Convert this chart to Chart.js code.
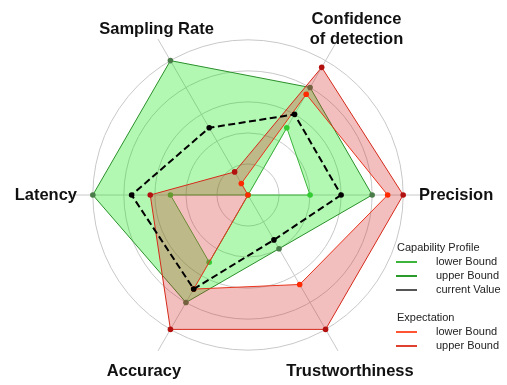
<!DOCTYPE html>
<html>
<head>
<meta charset="utf-8">
<script src="https://cdn.jsdelivr.net/npm/chart.js@4"></script>
<style>
body{margin:0;background:#fff;}
#wrap{position:relative;width:507px;height:385px;}
#legend{position:absolute;left:396px;top:240px;font-family:"Liberation Sans",Arial,sans-serif;font-size:11px;color:#222;}
#legend .title{height:14px;line-height:14px;margin-left:1px;}
#legend .row{height:14px;line-height:14px;position:relative;padding-left:40px;}
#legend .row i{position:absolute;left:0;top:7px;width:21px;height:1.5px;}
#legend .gap{height:14px;}
</style>
</head>
<body>
<div id="wrap">
<canvas id="radar"></canvas>
<div id="legend">
<div class="title">Capability Profile</div>
<div class="row"><i style="background:#3cb43c"></i>lower Bound</div>
<div class="row"><i style="background:#2a9a2a"></i>upper Bound</div>
<div class="row"><i style="background:#555"></i>current Value</div>
<div class="gap"></div>
<div class="title">Expectation</div>
<div class="row"><i style="background:#ff5533"></i>lower Bound</div>
<div class="row"><i style="background:#e04030"></i>upper Bound</div>
</div>
</div>

<script>

// Data (axis order clockwise from the right)

const axes = [
"Precision",
"Trustworthiness",
"Accuracy",
"Latency",
"Sampling Rate",
["Confidence","of detection"]
];

const capLower = [2, 0, 2.5, 2.5, 0, 2.5];
const capUpper = [4, 2, 4, 5, 5, 4];
const currentValue = [3, 1.67, 3.5, 3.75, 2.5, 3];
const expLower = [4.5, 3.33, 3.5, 0, 0.43, 3.75];
const expUpper = [5, 5, 5, 3.15, 0.86, 4.75];

const ringTicks = [0, 1, 2, 3, 4, 5];

// small horizontal nudge of each axis label
const labelShift = [0, 0, -2, 0, 4, 13];

// Axis labels drawn around the scale

const axisLabels = {
id:"axisLabels",
afterDraw(chart){

const scale = chart.scales.r;
const ctx = chart.ctx;

ctx.save();
ctx.font = "bold 16.5px 'Liberation Sans', Arial, sans-serif";
ctx.fillStyle = "#111";

for(let i=0;i<axes.length;i++){

const a = scale.getIndexAngle(i) - Math.PI/2;
const cos = Math.cos(a);
const lines = Array.isArray(axes[i]) ? axes[i] : [axes[i]];
let p;

if(Math.abs(cos) > 0.9){
p = scale.getPointPosition(i, 171);
ctx.textAlign = cos > 0 ? "left" : "right";
}
else{
p = scale.getPointPosition(i, Math.sin(a) < 0 ? 191 : 204);
ctx.textAlign = "center";
}

ctx.textBaseline = "middle";
const lh = 20;
const y0 = p.y - (lines.length-1)*lh/2;

lines.forEach((t,k)=>{
ctx.fillText(t, p.x + labelShift[i], y0 + k*lh);
});

}

ctx.restore();

}
};

new Chart(
document.getElementById("radar"),
{
type:"radar",
data:{
labels:axes,
datasets:[
{
label:"Capability lower Bound",
data:capLower,
borderColor:"#3cb43c",
borderWidth:1,
pointBackgroundColor:"#33cc33",
pointBorderWidth:0,
fill:false,
order:1
},
{
label:"Capability upper Bound",
data:capUpper,
borderColor:"#2a8f2a",
borderWidth:1,
pointBackgroundColor:"#4a7c4a",
pointBorderWidth:0,
backgroundColor:"rgba(0,230,0,0.3)",
fill:"-1",
order:1
},
{
label:"current Value",
data:currentValue,
borderColor:"#000",
borderWidth:2,
borderDash:[7,3.5],
pointBackgroundColor:"#000",
pointBorderWidth:0,
fill:false,
order:-1
},
{
label:"Expectation lower Bound",
data:expLower,
borderColor:"#e8341c",
borderWidth:1,
pointBackgroundColor:"#ff2a00",
pointBorderWidth:0,
fill:false,
order:0
},
{
label:"Expectation upper Bound",
data:expUpper,
borderColor:"#d42a1a",
borderWidth:1,
pointBackgroundColor:"#b31010",
pointBorderWidth:0,
backgroundColor:"rgba(214,39,40,0.3)",
fill:"-1",
order:0
}
]
},
options:{
responsive:true,
maintainAspectRatio:false,
animation:false,
layout:{
padding:{left:68,right:79,top:15,bottom:10}
},
elements:{
line:{tension:0},
point:{radius:2.8,borderWidth:0,hoverRadius:2.8}
},
plugins:{
legend:{display:false},
tooltip:{enabled:false}
},
scales:{
r:{
startAngle:90,
min:0,
max:5.8,
afterBuildTicks(scale){
scale.ticks = ringTicks.map(v=>({value:v})).concat([{value:5.8}]);
},
ticks:{display:false},
pointLabels:{display:false},
grid:{
circular:true,
color:c => c.tick && c.tick.value > 5 ? "rgba(0,0,0,0)" : "#c8c8c8",
lineWidth:1
},
angleLines:{
color:"#c8c8c8",
lineWidth:1
}
}
}
},
plugins:[axisLabels]
}
);

</script>
</body>
</html>
